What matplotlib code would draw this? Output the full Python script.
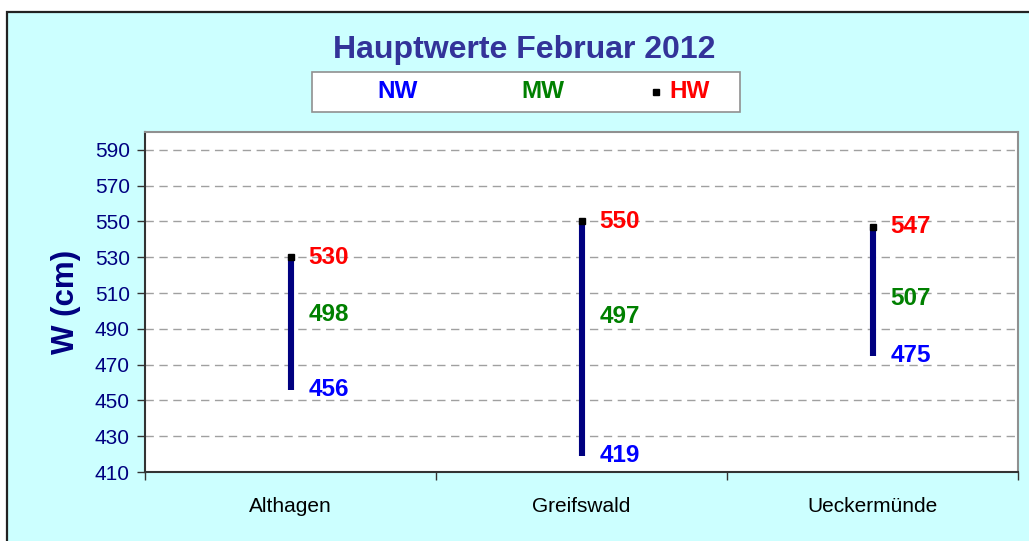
import matplotlib
matplotlib.use("Agg")
import matplotlib.pyplot as plt
from matplotlib.patches import Rectangle
from matplotlib.lines import Line2D

plt.rcParams["font.family"] = ["Liberation Sans", "DejaVu Sans"]

stations = ["Althagen", "Greifswald", "Ueckermünde"]
nw = [456, 419, 475]
mw = [498, 497, 507]
hw = [530, 550, 547]
yticks = list(range(410, 600, 20))

W, H = 1029, 541
fig = plt.figure(figsize=(W / 100, H / 100), dpi=100, facecolor="white")

# outer chart frame (cyan)
fig.patches.append(Rectangle((7 / W, -0.01), 1.0, 1 - 12.5 / H + 0.01, transform=fig.transFigure,
                             facecolor="#CCFFFF", edgecolor="#222222", linewidth=1.6, zorder=-1))

ax = fig.add_axes([145 / W, 1 - 472 / H, (1018 - 145) / W, (472 - 132) / H])
ax.set_zorder(2)
ax.set_facecolor("white")

x = [1, 2, 3]
ax.vlines(x, nw, hw, color="#000080", linewidth=4.4, zorder=3)
ax.plot(x, hw, linestyle="none", marker="s", markersize=4.5, color="black", zorder=4)

for xi, n, m, h in zip(x, nw, mw, hw):
    for val, col in ((h, "#FF0000"), (m, "#008000"), (n, "#0000FF")):
        ax.annotate(str(val), (xi, val), xytext=(13, 0), textcoords="offset points",
                    ha="left", va="center", fontsize=17.5, fontweight="bold", color=col, zorder=5)

ax.set_xlim(0.5, 3.5)
ax.set_ylim(410, 600)
ax.set_yticks(yticks)
ax.set_yticklabels([str(t) for t in yticks], color="#000080", fontsize=15)
ax.tick_params(axis="y", length=6, width=1, color="#333333", pad=5)

ax.set_xticks([0.5, 1.5, 2.5, 3.5])
ax.set_xticklabels([])
ax.set_xticks(x, minor=True)
ax.set_xticklabels(stations, minor=True, fontsize=15, color="black")
ax.tick_params(axis="x", which="major", length=6, width=1, color="#333333")
ax.tick_params(axis="x", which="minor", length=0, pad=18)

for t in yticks[1:]:
    ax.axhline(t, color="#A0A0A0", linewidth=1, linestyle=(0, (6, 4)), zorder=1)

for s in ("top", "right"):
    ax.spines[s].set_color("#909090")
    ax.spines[s].set_linewidth(1.5)
for s in ("left", "bottom"):
    ax.spines[s].set_color("#333333")
    ax.spines[s].set_linewidth(1.5)

ax.set_ylabel("W (cm)", fontsize=22.5, fontweight="bold", color="#000080", labelpad=10)

fig.text(524 / W, 1 - 50 / H, "Hauptwerte Februar 2012", ha="center", va="center",
         fontsize=23, fontweight="bold", color="#333399")

# legend box
fig.patches.append(Rectangle((312 / W, 1 - 112 / H), (740 - 312) / W, 40 / H, transform=fig.transFigure,
                             facecolor="white", edgecolor="#909090", linewidth=1.2, zorder=1))
ly = 1 - 92 / H
fig.text(398 / W, ly, "NW", ha="center", va="center", fontsize=17.5, fontweight="bold", color="#0000FF")
fig.text(543 / W, ly, "MW", ha="center", va="center", fontsize=17.5, fontweight="bold", color="#008000")
fig.add_artist(Line2D([656 / W], [ly], marker="s", markersize=4, color="black",
                      linestyle="none", transform=fig.transFigure))
fig.text(690 / W, ly, "HW", ha="center", va="center", fontsize=17.5, fontweight="bold", color="#FF0000")

fig.savefig("out.png", dpi=100, facecolor=fig.get_facecolor())
